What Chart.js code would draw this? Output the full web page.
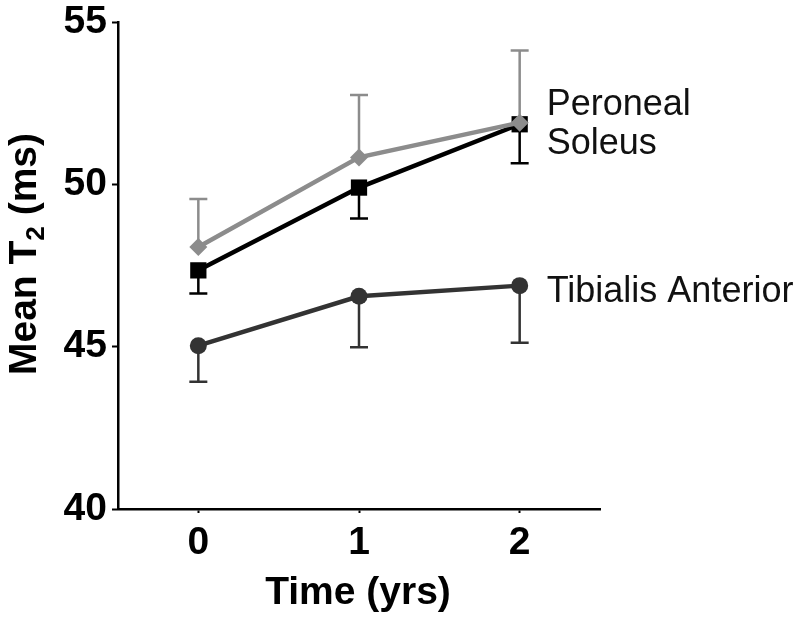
<!DOCTYPE html>
<html>
<head>
<meta charset="utf-8">
<script src="https://cdn.jsdelivr.net/npm/chart.js@4.4.1/dist/chart.umd.min.js"></script>
<style>
  html, body { margin: 0; padding: 0; background: #fff; }
  #wrap { width: 800px; height: 622px; }
</style>
</head>
<body>
<div id="wrap"><canvas id="chart" width="800" height="622"></canvas></div>
<script>
// Chart values
const timePoints = [0, 1, 2];
const yTicks = [40, 45, 50, 55];
const seriesNames = ['Peroneal', 'Soleus', 'Tibialis Anterior'];

const peronealMean = [48.07, 50.83, 51.9];
const peronealErrTop = [49.55, 52.75, 54.12];

const soleusMean = [47.35, 49.9, 51.85];
const soleusErrBottom = [46.64, 48.95, 50.65];

const tibialisMean = [45.03, 46.55, 46.88];
const tibialisErrBottom = [43.92, 44.98, 45.12];

const FONT = "'Liberation Sans', Arial, Helvetica, sans-serif";

function toPoints(values) {
    return timePoints.map((t, i) => ({ x: t, y: values[i] }));
}

// series styling + which end the error bar goes to, and label offsets
const seriesStyle = [
    { color: '#8c8c8c', style: 'rectRot', radius: 9, err: peronealErrTop, labelDy: -8 },
    { color: '#000000', style: 'rect', radius: 11.5, err: soleusErrBottom, labelDy: 30 },
    { color: '#333333', style: 'circle', radius: 8.5, err: tibialisErrBottom, labelDy: 16 }
];
const seriesMeans = [peronealMean, soleusMean, tibialisMean];

// draw error bars under the markers
const errorBars = {
    id: 'errorBars',
    beforeDatasetsDraw(chart) {
        const { ctx, scales: { x, y } } = chart;
        ctx.save();
        ctx.lineWidth = 2.5;
        seriesStyle.forEach((s, k) => {
            ctx.strokeStyle = s.color;
            timePoints.forEach((t, i) => {
                const px = x.getPixelForValue(t);
                const y0 = y.getPixelForValue(seriesMeans[k][i]);
                const y1 = y.getPixelForValue(s.err[i]);
                ctx.beginPath();
                ctx.moveTo(px, y0);
                ctx.lineTo(px, y1);
                ctx.moveTo(px - 9, y1);
                ctx.lineTo(px + 9, y1);
                ctx.stroke();
            });
        });
        ctx.restore();
    }
};

// series names at the right, titles with subscript
const annotations = {
    id: 'annotations',
    afterDraw(chart) {
        const { ctx, scales: { x, y } } = chart;
        const last = timePoints.length - 1;
        ctx.save();
        ctx.fillStyle = '#111';
        ctx.font = `36px ${FONT}`;
        ctx.textAlign = 'left';
        ctx.textBaseline = 'alphabetic';
        seriesStyle.forEach((s, k) => {
            const px = x.getPixelForValue(timePoints[last]) + 27;
            const py = y.getPixelForValue(seriesMeans[k][last]) + s.labelDy;
            ctx.fillText(seriesNames[k], px, py);
        });

        // x title
        ctx.fillStyle = '#000';
        ctx.font = `bold 39px ${FONT}`;
        ctx.textAlign = 'center';
        ctx.fillText('Time (yrs)', (x.left + x.right) / 2 - 1, 604);

        // y title: "Mean T" + subscript 2 + " (ms)"
        const big = `bold 39px ${FONT}`;
        const small = `bold 26px ${FONT}`;
        ctx.font = big;
        const w1 = ctx.measureText('Mean T').width;
        const w3 = ctx.measureText(' (ms)').width;
        ctx.font = small;
        const w2 = ctx.measureText('2').width;
        const total = w1 + w2 + w3;
        ctx.translate(36, 254);
        ctx.rotate(-Math.PI / 2);
        ctx.textAlign = 'left';
        let cx = -total / 2;
        ctx.font = big;
        ctx.fillText('Mean T', cx, 0);
        cx += w1;
        ctx.font = small;
        ctx.fillText('2', cx, 8);
        cx += w2;
        ctx.font = big;
        ctx.fillText(' (ms)', cx, 0);
        ctx.restore();
    }
};

new Chart(document.getElementById('chart').getContext('2d'), {
    type: 'line',
    data: {
        datasets: seriesStyle.map((s, k) => ({
            label: seriesNames[k],
            data: toPoints(seriesMeans[k]),
            borderColor: s.color,
            backgroundColor: s.color,
            borderWidth: 4.5,
            pointStyle: s.style,
            pointRadius: s.radius,
            pointBorderWidth: 0,
            pointBackgroundColor: s.color,
            tension: 0
        }))
    },
    options: {
        responsive: false,
        animation: false,
        layout: { padding: { top: 22, right: 200, left: 0, bottom: 0 } },
        plugins: { legend: { display: false }, tooltip: { enabled: false } },
        scales: {
            x: {
                type: 'linear',
                min: -0.5,
                max: 2.5,
                afterBuildTicks: (scale) => { scale.ticks = timePoints.map(v => ({ value: v })); },
                afterFit: (scale) => { scale.height = 113; scale.paddingLeft = 0; scale.paddingRight = 0; },
                border: { display: true, color: '#000', width: 2.5 },
                grid: { drawOnChartArea: false, drawTicks: true, tickLength: 4, tickWidth: 2, tickColor: '#000' },
                ticks: { color: '#000', padding: 7, font: { family: FONT, size: 39, weight: 'bold' } }
            },
            y: {
                min: 40,
                max: 55,
                afterBuildTicks: (scale) => { scale.ticks = yTicks.map(v => ({ value: v })); },
                afterFit: (scale) => { scale.width = 118; scale.paddingTop = 0; scale.paddingBottom = 0; },
                border: { display: true, color: '#000', width: 2.5 },
                grid: { drawOnChartArea: false, drawTicks: true, tickLength: 6, tickWidth: 2, tickColor: '#000' },
                ticks: { color: '#000', padding: 5, font: { family: FONT, size: 39, weight: 'bold' } }
            }
        }
    },
    plugins: [errorBars, annotations]
});
</script>
</body>
</html>
